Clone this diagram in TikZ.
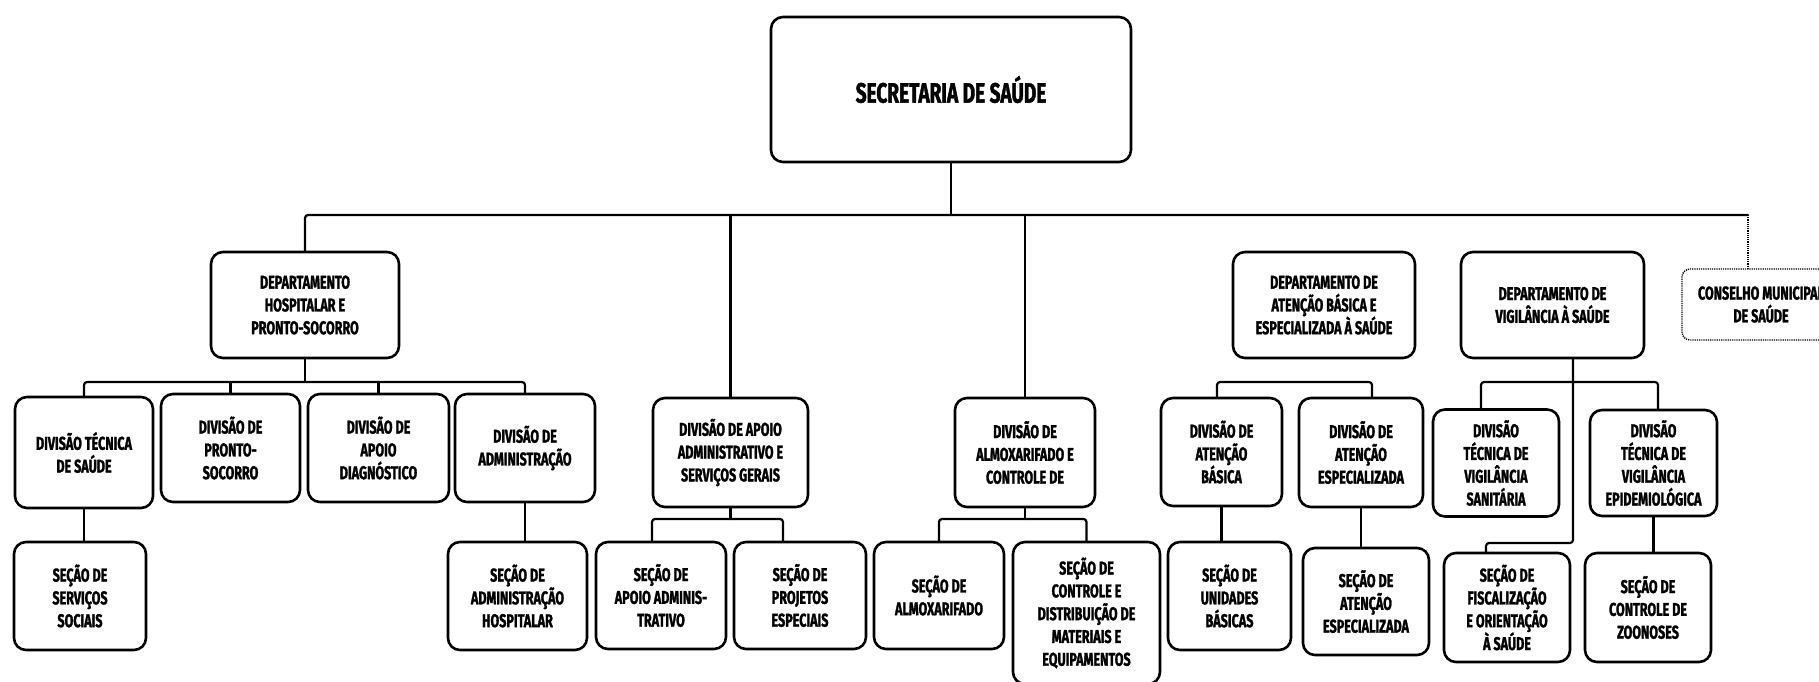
\documentclass[tikz,border=0pt]{standalone}
\usepackage{fontspec}
\newfontfamily\orgfont{Fira Sans}[UprightFont=* Bold, FakeStretch=0.68, FakeBold=1.5]

\begin{document}
\begin{tikzpicture}[x=1pt, y=-1pt, line cap=round, line join=round]

% ---------------- styles ----------------
\tikzset{
  unit/.style   ={draw, line width=2.6pt, rounded corners=12pt, align=center,
                  inner sep=0pt, font=\orgfont\fontsize{18.5}{22.8}\selectfont},
  dims/.style 2 args={minimum width=#1, minimum height=#2},
  council/.style={unit, line width=1.4pt, line cap=butt,
                  dash pattern=on 1.2pt off 1pt, rounded corners=8pt},
  link/.style   ={line width=2.2pt, rounded corners=3pt},
  dotlink/.style={line width=1.4pt, line cap=butt, dash pattern=on 1.2pt off 1pt}
}

% ---------------- frame ----------------
\useasboundingbox (0,0) rectangle (1819,682);

% ---------------- levels ----------------
\def\yBus{215}     % main bus under the secretaria
\def\yLow{382}     % brackets under the departments
\def\ySub{519}     % brackets under the divisions

% ---------------- top ----------------
\node[unit, dims={360}{145}, font=\orgfont\fontsize{28}{32}\selectfont]
  (sec) at (951,89.5) {SECRETARIA DE SAÚDE};

% ---------------- departments ----------------
\node[unit, dims={188}{106}] (dhosp) at (305,305)
  {DEPARTAMENTO\\HOSPITALAR E\\PRONTO-SOCORRO};
\node[unit, dims={182}{106}] (datb) at (1324,305)
  {DEPARTAMENTO DE\\ATENÇÃO BÁSICA E\\ESPECIALIZADA À SAÚDE};
\node[unit, dims={183}{106}] (dvig) at (1552.5,305)
  {DEPARTAMENTO DE\\VIGILÂNCIA À SAÚDE};
\node[council, dims={158}{71}] (cms) at (1761,304.5)
  {CONSELHO MUNICIPAL\\DE SAÚDE};

% ---------------- divisions ----------------
\node[unit, dims={138}{111}] (dtec) at (84,452.5)   {DIVISÃO TÉCNICA\\DE SAÚDE};
\node[unit, dims={139}{108}] (dps)  at (230.5,448)  {DIVISÃO DE\\PRONTO-\\SOCORRO};
\node[unit, dims={141}{108}] (dapd) at (378.5,448)  {DIVISÃO DE\\APOIO\\DIAGNÓSTICO};
\node[unit, dims={140}{108}] (dadm) at (525,448)    {DIVISÃO DE\\ADMINISTRAÇÃO};
\node[unit, dims={155}{109}] (dapoio) at (730.5,452.5)
  {DIVISÃO DE APOIO\\ADMINISTRATIVO E\\SERVIÇOS GERAIS};
\node[unit, dims={140}{109}] (dalm) at (1025,452.5)
  {DIVISÃO DE\\ALMOXARIFADO E\\CONTROLE DE};
\node[unit, dims={121}{108}] (dab)  at (1221.5,452) {DIVISÃO DE\\ATENÇÃO\\BÁSICA};
\node[unit, dims={124}{109}] (dae)  at (1361,452.5) {DIVISÃO DE\\ATENÇÃO\\ESPECIALIZADA};
\node[unit, dims={126}{107}] (dvs)  at (1496,463)
  {DIVISÃO\\TÉCNICA DE\\VIGILÂNCIA\\SANITÁRIA};
\node[unit, dims={127}{106}] (dve)  at (1653.5,463)
  {DIVISÃO\\TÉCNICA DE\\VIGILÂNCIA\\EPIDEMIOLÓGICA};

% ---------------- sections ----------------
\node[unit, dims={132}{108}] (sss)  at (80,596)      {SEÇÃO DE\\SERVIÇOS\\SOCIAIS};
\node[unit, dims={139}{108}] (sadh) at (517.5,596)   {SEÇÃO DE\\ADMINISTRAÇÃO\\HOSPITALAR};
\node[unit, dims={130}{107}] (sapa) at (661,595.5)   {SEÇÃO DE\\APOIO ADMINIS-\\TRATIVO};
\node[unit, dims={132}{107}] (spe)  at (800,595.5)   {SEÇÃO DE\\PROJETOS\\ESPECIAIS};
\node[unit, dims={130}{107}] (salm) at (939,595.5)   {SEÇÃO DE\\ALMOXARIFADO};
\node[unit, dims={147}{142}] (scde) at (1086.5,613)
  {SEÇÃO DE\\CONTROLE E\\DISTRIBUIÇÃO DE\\MATERIAIS E\\EQUIPAMENTOS};
\node[unit, dims={123}{108}] (sub)  at (1229.5,596)  {SEÇÃO DE\\UNIDADES\\BÁSICAS};
\node[unit, dims={126}{107}] (sae)  at (1366,601.5)  {SEÇÃO DE\\ATENÇÃO\\ESPECIALIZADA};
\node[unit, dims={126}{109}] (sfo)  at (1507,607.5)
  {SEÇÃO DE\\FISCALIZAÇÃO\\E ORIENTAÇÃO\\À SAÚDE};
\node[unit, dims={126}{109}] (scz)  at (1648,607.5)  {SEÇÃO DE\\CONTROLE DE\\ZOONOSES};

% ---------------- bracket ends ----------------
\coordinate (busR) at (1748,\yBus);
\coordinate (apL)  at (652,\ySub);
\coordinate (apR)  at (783,\ySub);
\coordinate (atL)  at (1217,\yLow);
\coordinate (atR)  at (1372,\yLow);
\coordinate (vgL)  at (1481,\yLow);
\coordinate (vgR)  at (1658,\yLow);
\coordinate (vgT)  at (1573,543);
\coordinate (vgF)  at (1486,543);

% ---------------- main bus ----------------
\draw[link] (dhosp.north) |- (busR);
\draw[dotlink] (busR) -- (busR |- cms.north);
\draw[link] (sec.south) -- (sec.south |- busR);
\draw[link] (dapoio.north) -- (dapoio.north |- busR);
\draw[link] (dalm.north) -- (dalm.north |- busR);

% ---------------- hospital branch ----------------
\draw[link] (dhosp.south) -- (dhosp.south |- 0,\yLow);
\draw[link] (dtec.north) |- (dadm.north |- 0,\yLow) -- (dadm.north);
\draw[link] (dps.north) -- (dps.north |- 0,\yLow);
\draw[link] (dapd.north) -- (dapd.north |- 0,\yLow);
\draw[link] (dtec.south) -- (dtec.south |- sss.north);
\draw[link] (dadm.south) -- (dadm.south |- sadh.north);

% ---------------- support and stock ----------------
\draw[link] (dapoio.south) -- (dapoio.south |- apL);
\draw[link] (apL |- sapa.north) -- (apL) -- (apR) -- (apR |- spe.north);
\draw[link] (dalm.south) -- (dalm.south |- 0,\ySub);
\draw[link] (salm.north) |- (scde.north |- 0,\ySub) -- (scde.north);

% ---------------- care and surveillance ----------------
\draw[link] (atL |- dab.north) -- (atL) -- (atR) -- (atR |- dae.north);
\draw[link] (dab.south) -- (dab.south |- sub.north);
\draw[link] (dae.south) -- (dae.south |- sae.north);
\draw[link] (vgL |- dvs.north) -- (vgL) -- (vgR) -- (vgR |- dve.north);
\draw[link] (vgT |- dvig.south) -- (vgT) -- (vgF) -- (vgF |- sfo.north);
\draw[link] (dve.south) -- (dve.south |- scz.north);

\end{tikzpicture}
\end{document}
